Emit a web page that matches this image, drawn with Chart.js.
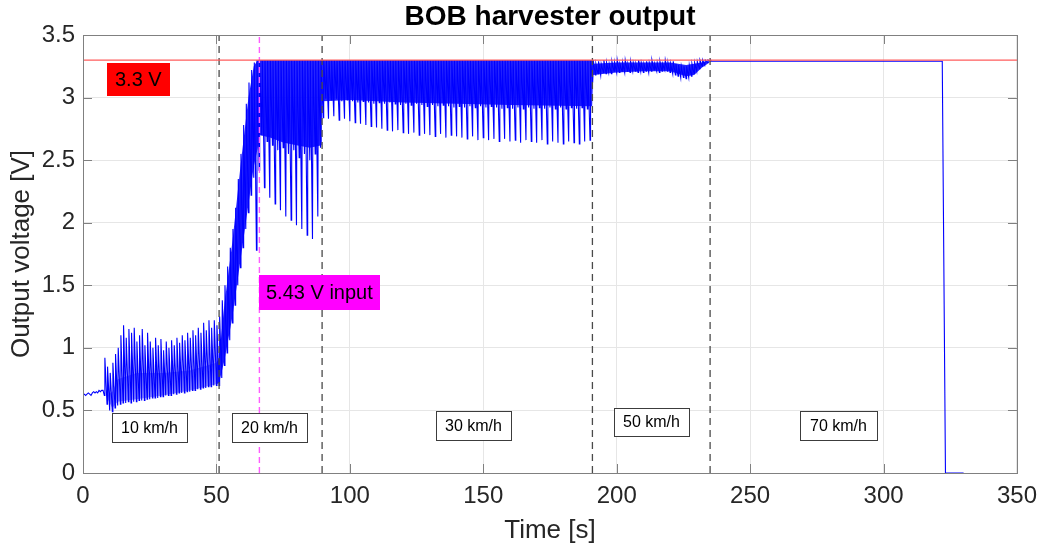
<!DOCTYPE html>
<html>
<head>
<meta charset="utf-8">
<title>BOB harvester output</title>
<script src="https://cdn.jsdelivr.net/npm/chart.js@4.4.1/dist/chart.umd.min.js"></script>
<style>
  body { margin: 0; background: #fff; }
  #wrap { width: 1046px; height: 550px; }
</style>
</head>
<body>
<div id="wrap"><canvas id="chart" width="1046" height="550"></canvas></div>
<script>
// values; where the output oscillates there is one low/high pair per second
const idleTimes = [0, 0.5, 1, 1.5, 2, 2.5, 3, 3.5, 4, 4.5, 5, 5.5, 6, 6.5, 7, 7.5];
const idleVolts = [0.62, 0.63, 0.62, 0.63, 0.64, 0.63, 0.62, 0.64, 0.65, 0.64, 0.65, 0.64, 0.66, 0.65, 0.66, 0.66];

// 10 km/h, t = 8 .. 50 s
const start10 = 8;
const low10 = [0.62, 0.55, 0.50, 0.49, 0.52, 0.54, 0.55, 0.56, 0.56, 0.57, 0.56, 0.57, 0.57, 0.58, 0.58,
  0.58, 0.59, 0.59, 0.60, 0.60, 0.60, 0.61, 0.61, 0.62, 0.62, 0.62, 0.63, 0.63, 0.64, 0.64,
  0.64, 0.65, 0.65, 0.66, 0.66, 0.67, 0.67, 0.68, 0.68, 0.69, 0.69, 0.70, 0.70];
const high10 = [0.92, 0.85, 0.80, 0.88, 0.95, 1.00, 1.10, 1.18, 1.08, 1.15, 1.12, 1.16, 1.05, 1.10, 1.15,
  1.02, 1.12, 1.05, 1.00, 1.08, 1.02, 1.07, 0.98, 1.05, 1.00, 1.06, 1.02, 1.08, 1.04, 1.10,
  1.06, 1.12, 1.08, 1.14, 1.10, 1.16, 1.12, 1.20, 1.14, 1.22, 1.16, 1.22, 1.18];

// 20 km/h, t = 51 .. 89 s
const start20 = 51;
const low20 = [0.70, 0.76, 0.86, 0.96, 1.06, 1.20, 1.34, 1.50, 1.64, 1.80, 1.95, 2.08, 2.22, 2.36, 1.78,
  2.42, 2.70, 2.28, 2.65, 2.20, 2.62, 2.15, 2.58, 2.10, 2.60, 2.05, 2.55, 2.02, 2.58, 1.98,
  2.52, 1.95, 2.55, 1.90, 2.50, 1.87, 2.55, 2.05, 2.60];
const high20 = [1.25, 1.38, 1.50, 1.65, 1.80, 1.95, 2.12, 2.35, 2.55, 2.78, 2.95, 3.12, 3.22, 3.28, 3.30,
  3.30, 3.30, 3.30, 3.30, 3.30, 3.30, 3.30, 3.30, 3.30, 3.30, 3.30, 3.30, 3.30, 3.30, 3.30,
  3.30, 3.30, 3.30, 3.30, 3.30, 3.30, 3.30, 3.30, 3.30];

// 30 km/h, t = 90 .. 190 s, highs sit on the 3.3 V limit
const start30 = 90;
const low30 = [2.84, 2.99, 2.83, 2.98, 2.85, 2.99, 2.82, 2.97, 2.83, 2.98,
  2.81, 2.97, 2.80, 2.96, 2.79, 2.97, 2.78, 2.96, 2.77, 2.95,
  2.76, 2.96, 2.75, 2.95, 2.74, 2.96, 2.73, 2.95, 2.74, 2.94,
  2.72, 2.95, 2.71, 2.94, 2.72, 2.95, 2.70, 2.94, 2.71, 2.93,
  2.70, 2.94, 2.69, 2.93, 2.71, 2.94, 2.68, 2.93, 2.70, 2.92,
  2.69, 2.93, 2.68, 2.92, 2.67, 2.93, 2.69, 2.92, 2.66, 2.93,
  2.68, 2.92, 2.66, 2.93, 2.67, 2.92, 2.65, 2.91, 2.67, 2.92,
  2.65, 2.91, 2.66, 2.92, 2.64, 2.91, 2.66, 2.92, 2.65, 2.91,
  2.64, 2.92, 2.66, 2.91, 2.63, 2.92, 2.65, 2.91, 2.64, 2.92,
  2.63, 2.91, 2.65, 2.92, 2.64, 2.91, 2.63, 2.92, 2.65, 2.91,
  2.66];

// 50 km/h, t = 191 .. 235 s
const start50 = 191;
const low50 = [3.12, 3.18, 3.19, 3.18, 3.20, 3.19, 3.20, 3.19, 3.21, 3.20,
  3.20, 3.21, 3.20, 3.21, 3.20, 3.21, 3.21, 3.20, 3.21, 3.20,
  3.21, 3.20, 3.21, 3.22, 3.21, 3.20, 3.21, 3.22, 3.21, 3.20,
  3.19, 3.18, 3.17, 3.16, 3.16, 3.15, 3.16, 3.17, 3.19, 3.21,
  3.23, 3.25, 3.26, 3.28, 3.29];
const high50 = [3.30, 3.27, 3.29, 3.27, 3.30, 3.28, 3.27, 3.29, 3.28, 3.30,
  3.27, 3.28, 3.30, 3.27, 3.29, 3.28, 3.27, 3.30, 3.28, 3.27,
  3.29, 3.28, 3.30, 3.27, 3.28, 3.29, 3.27, 3.30, 3.28, 3.27,
  3.29, 3.27, 3.26, 3.25, 3.25, 3.25, 3.26, 3.27, 3.28, 3.29,
  3.30, 3.30, 3.30, 3.30, 3.30];

// 70 km/h flat at the limit, then the supply drops out
const tailTimes = [235.5, 322, 323.2, 330];
const tailVolts = [3.29, 3.29, 0, 0];

// the solid-looking core of the oscillation (where the trace is too dense to see single cycles)
const coreTimes = [9, 11, 13, 20, 30, 40, 50, 51, 53, 56, 59, 62, 64, 65.5, 66, 70, 75, 80, 85, 89.5,
  89.6, 100, 120, 140, 160, 190.8,
  191.2, 200, 210, 220, 223, 226, 229, 232, 234.8];
const coreTop = [0.62, 0.65, 0.75, 0.80, 0.80, 0.82, 0.88, 0.92, 1.35, 1.85, 2.45, 3.00, 3.25, 3.30,
  3.30, 3.30, 3.30, 3.30, 3.30, 3.30, 3.30, 3.30, 3.30, 3.30, 3.30, 3.30,
  3.27, 3.28, 3.28, 3.28, 3.27, 3.26, 3.27, 3.28, 3.29];
const coreBottom = [0.60, 0.52, 0.57, 0.59, 0.62, 0.66, 0.71, 0.72, 0.90, 1.25, 1.70, 2.15, 2.45, 2.60,
  2.70, 2.68, 2.64, 2.62, 2.60, 2.62, 2.97, 2.98, 2.96, 2.95, 2.94, 2.93,
  3.18, 3.20, 3.21, 3.21, 3.19, 3.17, 3.18, 3.24, 3.28];

const limitVoltage = 3.3;
const speedChangeTimes = [51, 89.6, 190.9, 235];
const inputMarkerTime = 66.1;
const speedLabels = ['10 km/h', '20 km/h', '30 km/h', '50 km/h', '70 km/h'];
const xTicks = [0, 50, 100, 150, 200, 250, 300, 350];
const yTicks = [0, 0.5, 1, 1.5, 2, 2.5, 3, 3.5];

const spikeRise = 0.2;
const FONT = '"Liberation Sans", Arial, sans-serif';

function sawtooth(points, start, lows, highs) {
  lows.forEach((lo, i) => {
    points.push({ x: start + i, y: lo });
    points.push({ x: start + i + spikeRise, y: Array.isArray(highs) ? highs[i] : highs });
  });
}

const output = idleTimes.map((t, i) => ({ x: t, y: idleVolts[i] }));
sawtooth(output, start10, low10, high10);
sawtooth(output, start20, low20, high20);
sawtooth(output, start30, low30, limitVoltage);
sawtooth(output, start50, low50, high50);
tailTimes.forEach((t, i) => output.push({ x: t, y: tailVolts[i] }));

const vLine = (t) => [{ x: t, y: yTicks[0] }, { x: t, y: yTicks[yTicks.length - 1] }];

const datasets = [
  { data: [{ x: xTicks[0], y: limitVoltage }, { x: xTicks[xTicks.length - 1], y: limitVoltage }],
    borderColor: '#ff5c5c', borderWidth: 1.2, order: 0 },
  { data: vLine(inputMarkerTime), borderColor: '#ff5cff', borderWidth: 1.4, borderDash: [6, 4], order: 1 }
];
speedChangeTimes.forEach(t => {
  datasets.push({ data: vLine(t), borderColor: '#4a4a4a', borderWidth: 1.3, borderDash: [7, 5], order: 1 });
});
datasets.push({ data: output, borderColor: '#0000ff', borderWidth: 1.1, order: 5 });
datasets.push({ data: coreTimes.map((t, i) => ({ x: t, y: coreTop[i] })), borderWidth: 0,
  borderColor: 'rgba(0,0,0,0)', order: 6 });
datasets.push({ data: coreTimes.map((t, i) => ({ x: t, y: coreBottom[i] })), borderWidth: 0,
  borderColor: 'rgba(0,0,0,0)', fill: '-1', backgroundColor: 'rgba(0,0,255,0.85)', order: 6,
  segment: { backgroundColor: c => (c.p1.parsed.x <= 50 ? 'rgba(0,0,255,0.4)' : 'rgba(0,0,255,0.85)') } });

// text boxes: left edge in seconds, vertical centre in volts
const notes = [
  { text: '3.3 V', t: 9, v: 3.145, size: 20, h: 33, padX: 8, fill: '#ff0000' },
  { text: '5.43 V input', t: 66.1, v: 1.44, size: 20, h: 35, padX: 7, fill: '#ff00ff' },
  { text: speedLabels[0], t: 10.8, v: 0.36, size: 16, h: 29, padX: 9, fill: '#fff', stroke: '#3c3c3c' },
  { text: speedLabels[1], t: 55.7, v: 0.36, size: 16, h: 29, padX: 9, fill: '#fff', stroke: '#3c3c3c' },
  { text: speedLabels[2], t: 132.2, v: 0.38, size: 16, h: 29, padX: 9, fill: '#fff', stroke: '#3c3c3c' },
  { text: speedLabels[3], t: 199.1, v: 0.41, size: 16, h: 28, padX: 9, fill: '#fff', stroke: '#3c3c3c' },
  { text: speedLabels[4], t: 268.6, v: 0.38, size: 16, h: 29, padX: 10, fill: '#fff', stroke: '#3c3c3c' }
];

const framePlugin = {
  id: 'frame',
  afterDatasetsDraw(chart) {
    const { ctx, scales: { x, y } } = chart;
    ctx.save();
    notes.forEach(n => {
      ctx.font = `${n.size}px ${FONT}`;
      const w = Math.round(ctx.measureText(n.text).width + n.padX * 2);
      const left = Math.round(x.getPixelForValue(n.t));
      const top = Math.round(y.getPixelForValue(n.v) - n.h / 2);
      ctx.fillStyle = n.fill;
      ctx.fillRect(left, top, w, n.h);
      if (n.stroke) {
        ctx.strokeStyle = n.stroke;
        ctx.lineWidth = 1;
        ctx.strokeRect(left + 0.5, top + 0.5, w, n.h);
      }
      ctx.fillStyle = '#000';
      ctx.textAlign = 'left';
      ctx.textBaseline = 'middle';
      ctx.fillText(n.text, left + n.padX, top + n.h / 2 + 1);
    });
    ctx.restore();
  },
  afterDraw(chart) {
    const { ctx, chartArea: a, scales: { x, y } } = chart;
    ctx.save();
    ctx.strokeStyle = '#808080';
    ctx.lineWidth = 1;
    ctx.beginPath();
    x.ticks.forEach(tk => {
      const px = Math.round(x.getPixelForValue(tk.value)) + 0.5;
      ctx.moveTo(px, a.bottom); ctx.lineTo(px, a.bottom - 9);
      ctx.moveTo(px, a.top); ctx.lineTo(px, a.top + 9);
    });
    y.ticks.forEach(tk => {
      const py = Math.round(y.getPixelForValue(tk.value)) + 0.5;
      ctx.moveTo(a.left, py); ctx.lineTo(a.left + 9, py);
      ctx.moveTo(a.right, py); ctx.lineTo(a.right - 9, py);
    });
    ctx.stroke();
    ctx.strokeRect(Math.round(a.left) + 0.5, Math.round(a.top) + 0.5,
      Math.round(a.right - a.left), Math.round(a.bottom - a.top));

    ctx.fillStyle = '#000';
    ctx.font = `bold 28px ${FONT}`;
    ctx.textAlign = 'center';
    ctx.textBaseline = 'middle';
    ctx.fillText('BOB harvester output', (a.left + a.right) / 2, 17);
    ctx.restore();
  }
};

new Chart(document.getElementById('chart'), {
  type: 'line',
  data: { datasets },
  options: {
    responsive: false,
    animation: false,
    events: [],
    elements: { point: { radius: 0 }, line: { tension: 0 } },
    layout: { padding: { top: 35, right: 26, bottom: 0, left: 0 } },
    plugins: { legend: { display: false }, tooltip: { enabled: false }, title: { display: false } },
    scales: {
      x: {
        type: 'linear',
        min: xTicks[0],
        max: xTicks[xTicks.length - 1],
        afterBuildTicks: s => { s.ticks = xTicks.map(v => ({ value: v })); },
        afterFit: s => { s.height = 77; },
        grid: { color: '#e6e6e6', drawTicks: false },
        border: { display: false },
        ticks: { padding: 9, color: '#262626', font: { family: FONT, size: 24 }, maxRotation: 0,
          callback: v => String(v) },
        title: { display: true, text: 'Time [s]', color: '#262626',
          font: { family: FONT, size: 26 }, padding: { top: 0, bottom: 4 } }
      },
      y: {
        type: 'linear',
        min: yTicks[0],
        max: yTicks[yTicks.length - 1],
        afterBuildTicks: s => { s.ticks = yTicks.map(v => ({ value: v })); },
        afterFit: s => { s.width = 83; },
        grid: { color: '#e6e6e6', drawTicks: false },
        border: { display: false },
        ticks: { padding: 8, color: '#262626', font: { family: FONT, size: 24 },
          callback: v => String(v) },
        title: { display: true, text: 'Output voltage [V]', color: '#262626',
          font: { family: FONT, size: 26 }, padding: { top: 6, bottom: 0 } }
      }
    }
  },
  plugins: [framePlugin]
});
</script>
</body>
</html>
